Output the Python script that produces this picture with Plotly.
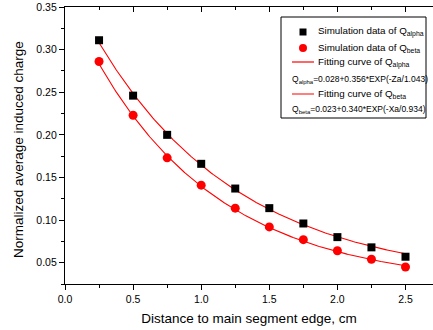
import numpy as np
import plotly.graph_objects as go

# ---- data ----
distance = [0.25, 0.5, 0.75, 1.0, 1.25, 1.5, 1.75, 2.0, 2.25, 2.5]
q_alpha = [0.311, 0.246, 0.200, 0.166, 0.137, 0.114, 0.096, 0.080, 0.068, 0.057]
q_beta = [0.286, 0.223, 0.173, 0.141, 0.114, 0.092, 0.077, 0.064, 0.054, 0.045]

# fit parameters as printed in the legend: y0 + A*exp(-x/t)
fit_alpha = {"y0": 0.028, "A": 0.356, "t": 1.043}
fit_beta = {"y0": 0.023, "A": 0.340, "t": 0.934}

x_ticks = [0.0, 0.5, 1.0, 1.5, 2.0, 2.5]
y_ticks = [0.05, 0.10, 0.15, 0.20, 0.25, 0.30, 0.35]

x_fit = np.linspace(min(distance), max(distance), 200)
def fit_curve(p):
    return p["y0"] + p["A"] * np.exp(-x_fit / p["t"])

FONT = "Liberation Sans, Arial, sans-serif"
W, H = 433, 330
L, R, T, B = 65, 0, 7, 46
PW, PH = W - L - R, H - T - B

fig = go.Figure()
fig.add_trace(go.Scatter(x=x_fit, y=fit_curve(fit_alpha), mode="lines",
                         line=dict(color="#ff0000", width=1.1), showlegend=False))
fig.add_trace(go.Scatter(x=x_fit, y=fit_curve(fit_beta), mode="lines",
                         line=dict(color="#ff0000", width=1.1), showlegend=False))
fig.add_trace(go.Scatter(x=distance, y=q_alpha, mode="markers",
                         marker=dict(symbol="square", size=8, color="black"), showlegend=False))
fig.add_trace(go.Scatter(x=distance, y=q_beta, mode="markers",
                         marker=dict(symbol="circle", size=9, color="#ff0000"), showlegend=False))

def px(xp):
    return (xp - L) / PW
def py(yp):
    return (H - B - yp) / PH

shapes = []
annotations = []
# legend box
shapes.append(dict(type="rect", xref="paper", yref="paper",
                   x0=px(281), x1=px(426), y0=py(118), y1=py(17),
                   line=dict(color="black", width=1), fillcolor="white"))
# legend symbols
shapes.append(dict(type="rect", xref="paper", yref="paper",
                   x0=px(299.5), x1=px(306.5), y0=py(35.5), y1=py(28.5),
                   line=dict(width=0), fillcolor="black"))
shapes.append(dict(type="circle", xref="paper", yref="paper",
                   x0=px(299), x1=px(307), y0=py(52), y1=py(44),
                   line=dict(width=0), fillcolor="#ff0000"))
shapes.append(dict(type="line", xref="paper", yref="paper",
                   x0=px(292), x1=px(314), y0=py(62), y1=py(62),
                   line=dict(color="#ff0000", width=1.2)))
shapes.append(dict(type="line", xref="paper", yref="paper",
                   x0=px(292), x1=px(314), y0=py(94), y1=py(94),
                   line=dict(color="#ff7f7f", width=2)))

def label(x, y, text, size):
    annotations.append(dict(xref="paper", yref="paper", x=px(x), y=py(y), text=text,
                            showarrow=False, xanchor="left", yanchor="middle",
                            xshift=-2, font=dict(family=FONT, size=size, color="black")))

LEG = 9.8
FORM = 8.5
label(318, 32, "Simulation data of Q<sub>alpha</sub>", LEG)
label(318, 48, "Simulation data of Q<sub>beta</sub>", LEG)
label(318, 62, "Fitting curve of Q<sub>alpha</sub>", LEG)
label(292, 79, "Q<sub>alpha</sub>=%.3f+%.3f*EXP(-Za/%.3f)" % (fit_alpha["y0"], fit_alpha["A"], fit_alpha["t"]), FORM)
label(318, 94, "Fitting curve of Q<sub>beta</sub>", LEG)
label(292, 109, "Q<sub>beta</sub>=%.3f+%.3f*EXP(-Xa/%.3f)" % (fit_beta["y0"], fit_beta["A"], fit_beta["t"]), FORM)

# y-axis title
annotations.append(dict(xref="paper", yref="paper", x=px(18), y=py(150),
                        text="Normalized average induced charge", textangle=-90,
                        showarrow=False, xanchor="center", yanchor="middle",
                        font=dict(family=FONT, size=13.5, color="black")))

fig.update_layout(
    width=W, height=H,
    margin=dict(l=L, r=R, t=T, b=B),
    plot_bgcolor="white", paper_bgcolor="white",
    font=dict(family=FONT, size=10.5, color="black"),
    shapes=shapes, annotations=annotations,
    xaxis=dict(range=[0, PW / 136.2], tickvals=x_ticks,
               ticktext=["%.1f" % v for v in x_ticks],
               ticks="outside", ticklen=5, tickwidth=1, tickcolor="black",
               minor=dict(dtick=0.25, tick0=0, ticks="outside", ticklen=3, tickcolor="black"),
               showline=True, linecolor="black", linewidth=1.2, showgrid=False, zeroline=False,
               title=dict(text="Distance to main segment edge, cm", font=dict(size=13.5), standoff=9),
               tickfont=dict(size=10.5)),
    xaxis2=dict(overlaying="x", matches="x", side="top", tickvals=x_ticks,
                showticklabels=False, ticks="inside", ticklen=5, tickcolor="black",
                minor=dict(dtick=0.25, tick0=0, ticks="inside", ticklen=3, tickcolor="black"),
                showline=True, linecolor="black", linewidth=1.2, showgrid=False, zeroline=False),
    yaxis=dict(range=[0.025, 0.35], tickvals=y_ticks,
               ticktext=["%.2f" % v for v in y_ticks],
               ticks="outside", ticklen=5, tickwidth=1, tickcolor="black",
               minor=dict(dtick=0.025, tick0=0, ticks="outside", ticklen=3, tickcolor="black"),
               showline=True, linecolor="black", linewidth=1.2, showgrid=False, zeroline=False,
               tickfont=dict(size=10.5)),
)
# dummy trace to activate the top axis
fig.add_trace(go.Scatter(x=[None], y=[None], xaxis="x2", showlegend=False, hoverinfo="skip"))

fig.write_html("out.html", config={"displayModeBar": False},
               post_script="document.body.style.margin='0';")
